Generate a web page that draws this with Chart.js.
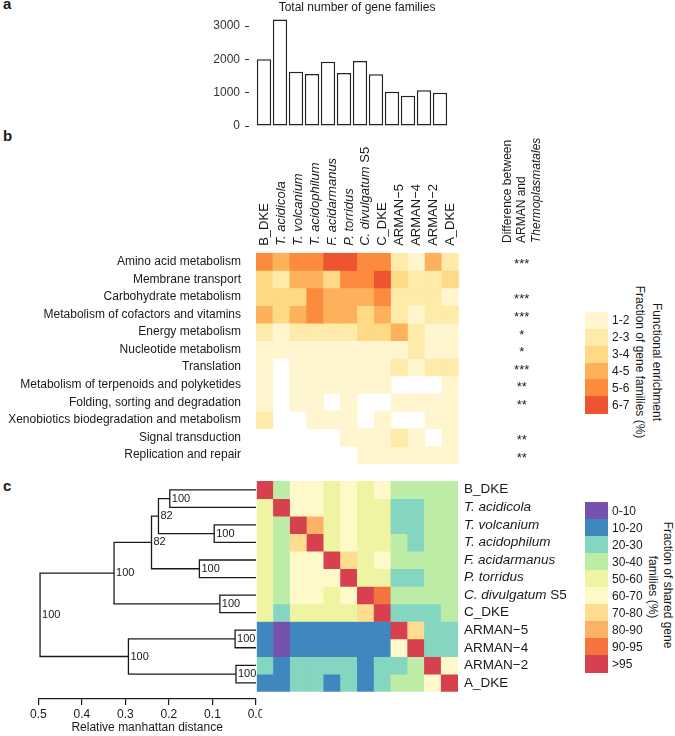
<!DOCTYPE html>
<html><head><meta charset="utf-8">
<title>Gene families</title>
<script src="https://cdn.jsdelivr.net/npm/chart.js@4.4.1/dist/chart.umd.min.js"></script>
<style>
html,body{margin:0;padding:0;background:#fff;}
body{position:relative;width:675px;height:736px;overflow:hidden;font-family:"Liberation Sans",Arial,Helvetica,sans-serif;color:#1a1a1a;}
canvas{position:absolute;display:block;}
.t{position:absolute;font-size:12px;line-height:14px;white-space:nowrap;}
.letter{position:absolute;font-size:15px;line-height:15px;font-weight:bold;}
.rotcw{transform:translate(-50%,-50%) rotate(90deg);}
.rotccw{transform-origin:0 0;transform:rotate(-90deg);}
.sw{position:absolute;left:585px;width:23px;}
</style></head><body>
<div class="letter" style="left:3px;top:-4px">a</div>
<div class="letter" style="left:3px;top:128px">b</div>
<div class="letter" style="left:3px;top:478px">c</div>
<canvas id="barChart" width="314" height="130" style="left:200px;top:0px"></canvas>
<canvas id="enrichChart" width="560" height="330" style="left:0px;top:140px"></canvas>
<canvas id="dendroChart" width="262" height="266" style="left:0px;top:470px"></canvas>
<canvas id="shareChart" width="340" height="230" style="left:250px;top:470px"></canvas>
<div class="t rotccw" style="left:499.7px;top:243.3px">Difference between</div>
<div class="t rotccw" style="left:514px;top:243.3px">ARMAN and</div>
<div class="t rotccw" style="left:529px;top:243.3px;font-style:italic">Thermoplasmatales</div>
<div class="t rotcw" style="left:657px;top:362px">Functional enrichment</div>
<div class="t rotcw" style="left:640px;top:362px">Fraction of gene families (%)</div>
<div class="t rotcw" style="left:668px;top:585px">Fraction of shared gene</div>
<div class="t rotcw" style="left:653px;top:587px">families (%)</div>
<div id="legendB"></div>
<div id="legendC"></div>
<script>
// ---------------- data ----------------
const genomes = ['B_DKE','T. acidicola','T. volcanium','T. acidophilum','F. acidarmanus','P. torridus','C. divulgatum S5','C_DKE','ARMAN\u22125','ARMAN\u22124','ARMAN\u22122','A_DKE'];
const italicGenomes = [1,2,3,4,5,6];
const romanSuffix = {6: ' S5'};   // part of an italic name that is set upright
const geneFamilyTotals = [2000,3200,1630,1560,1930,1590,1950,1550,1030,910,1070,1000];
const barTicks = [0,1000,2000,3000];

const functionCategories = ['Amino acid metabolism','Membrane transport','Carbohydrate metabolism','Metabolism of cofactors and vitamins','Energy metabolism','Nucleotide metabolism','Translation','Metabolism of terpenoids and polyketides','Folding, sorting and degradation','Xenobiotics biodegradation and metabolism','Signal transduction','Replication and repair'];
const significance = ['***','','***','***','*','*','***','**','**','','**','**'];
// fraction of gene families (%) per category (rows) and genome (columns); null = none
const enrichmentPct = [
  [5.5,4.5,5.5,5.5,6.5,6.5,5.5,5.5,2.5,1.5,4.5,2.5],
  [3.5,2.5,4.5,4.5,3.5,5.5,5.5,6.5,3.5,2.5,2.5,3.5],
  [3.5,3.5,3.5,5.5,4.5,4.5,4.5,5.5,2.5,2.5,2.5,1.5],
  [4.5,3.5,4.5,5.5,4.5,4.5,3.5,4.5,2.5,1.5,2.5,2.5],
  [2.5,1.5,2.5,2.5,2.5,2.5,3.5,3.5,4.5,2.5,1.5,1.5],
  [1.5,1.5,1.5,1.5,1.5,1.5,1.5,1.5,1.5,2.5,1.5,1.5],
  [1.5,null,1.5,1.5,1.5,1.5,1.5,1.5,2.5,1.5,2.5,2.5],
  [1.5,null,1.5,1.5,1.5,1.5,1.5,1.5,null,null,null,1.5],
  [1.5,null,1.5,1.5,null,1.5,null,null,1.5,1.5,1.5,1.5],
  [2.5,null,null,1.5,1.5,1.5,null,1.5,null,null,1.5,1.5],
  [null,null,null,null,null,1.5,1.5,1.5,2.5,1.5,null,1.5],
  [null,null,null,null,null,null,1.5,1.5,1.5,1.5,1.5,1.5]
];
const enrichBinLabels = ['1-2','2-3','3-4','4-5','5-6','6-7'];
const enrichBinColors = ['#fff6cf','#feeaa9','#fed986','#feb15b','#fc8b3d','#ee5430'];

// fraction of shared gene families (%) between genomes
const sharedPct = [
  [100,35,65,65,55,65,55,65,35,35,35,35],
  [55,100,65,65,55,65,55,55,25,25,35,35],
  [55,35,100,85,55,65,55,55,25,25,35,35],
  [55,35,75,100,55,65,55,55,35,25,35,35],
  [55,35,65,65,100,75,55,65,35,35,35,35],
  [55,35,65,65,65,100,55,55,25,25,35,35],
  [55,35,65,65,55,65,100,92,35,35,35,35],
  [55,25,55,55,55,55,75,100,25,25,25,35],
  [15,5,15,15,15,15,15,15,100,75,25,25],
  [15,5,15,15,15,15,15,15,65,100,25,25],
  [25,15,25,25,25,25,15,25,25,35,100,65],
  [15,15,25,25,15,25,15,25,35,35,65,100]
];
const shareBinLabels = ['0-10','10-20','20-30','30-40','50-60','60-70','70-80','80-90','90-95','>95'];
const shareBinUpper = [10,20,30,40,60,70,80,90,95,Infinity];
const shareBinColors = ['#7552b0','#3f87bf','#84d6c0','#bdeca7','#eef4a2','#fff9ca','#fedd90','#fdb165','#f5733f','#d7404f'];

// dendrogram (hclust style: negative = leaf index, positive = merge index)
const mergeLeft    = [-1,-3, 1,-5, 3,-7, 5,-9,-11, 8, 7];
const mergeRight   = [-2,-4, 2,-6, 4,-8, 6,-10,-12, 9,10];
const mergeHeight  = [0.198,0.096,0.224,0.130,0.240,0.083,0.326,0.048,0.046,0.293,0.496];
const mergeSupport = [100,100,82,100,82,100,100,100,100,100,100];
const distTicks = [0,0.1,0.2,0.3,0.4,0.5];

// ---------------- helpers ----------------
const FAM = '"Liberation Sans", Arial, Helvetica, sans-serif';
Chart.defaults.font.family = FAM;
Chart.defaults.color = '#1a1a1a';
const INK = '#1a1a1a';

function enrichColor(v){ const k = Math.min(enrichBinColors.length-1, Math.max(0, Math.floor(v)-1)); return enrichBinColors[k]; }
function shareColor(v){ for (let k=0;k<shareBinUpper.length;k++){ if (v < shareBinUpper[k] || (k===8 && v<=95)) return shareBinColors[k]; } return shareBinColors[shareBinColors.length-1]; }
function noPad(s){ s.paddingTop = 0; s.paddingBottom = 0; s.paddingLeft = 0; s.paddingRight = 0; }

function heatDatasets(matrix, colorFn){
  return matrix.map((row, r) => ({
    xAxisID:'x', yAxisID:'y',
    data: row.map(v => v == null ? null : [r, r+1]),
    backgroundColor: row.map(v => v == null ? 'rgba(0,0,0,0)' : colorFn(v)),
    borderWidth: 0, grouped: false, barPercentage: 1, categoryPercentage: 1
  }));
}
const italicFont = size => c => ({size: size, style: italicGenomes.includes(c.index) ? 'italic' : 'normal'});
const genomeColor = c => romanSuffix[c.index] ? 'rgba(0,0,0,0)' : INK;

// draws genome names that mix italic and upright type at the tick positions of a scale
function mixedLabelPlugin(scaleId, size, rotated, pad){
  return { id: 'mixed_' + scaleId, afterDraw(chart){
    const s = chart.scales[scaleId], ctx = chart.ctx;
    Object.keys(romanSuffix).forEach(key => {
      const i = +key, full = genomes[i], suf = romanSuffix[i], ita = full.slice(0, full.length - suf.length);
      ctx.save();
      if (rotated) { ctx.translate(s.getPixelForValue(i), s.bottom - pad); ctx.rotate(-Math.PI/2); }
      else { ctx.translate(s.left + pad, s.getPixelForValue(i)); }
      ctx.textAlign = 'left'; ctx.textBaseline = 'middle'; ctx.fillStyle = INK;
      ctx.font = 'italic ' + size + 'px ' + FAM; ctx.fillText(ita, 0, 0);
      const w = ctx.measureText(ita).width;
      ctx.font = size + 'px ' + FAM; ctx.fillText(suf, w, 0);
      ctx.restore();
    });
  }};
}

// ---------------- panel a ----------------
new Chart(document.getElementById('barChart'), {
  type: 'bar',
  data: { datasets: [{
    data: genomes.map((g,i) => ({x:i, y:geneFamilyTotals[i]})),
    backgroundColor: '#ffffff', borderColor: '#222', borderWidth: 1.5,
    borderSkipped: false, barPercentage: 0.9, categoryPercentage: 1
  }]},
  options: {
    responsive:false, animation:false, events:[],
    layout:{padding:{left:0,right:0,top:0,bottom:4}},
    plugins:{ legend:{display:false}, tooltip:{enabled:false},
      title:{display:true, text:'Total number of gene families', color:INK, font:{size:12, weight:'normal'}, padding:{top:0,bottom:0}} },
    scales:{
      x:{type:'linear', min:-0.9375, max:15.625, offset:false, grid:{offset:false}, bounds:'data', display:false},
      y:{min:0, max:3350,
         afterBuildTicks: s => { s.ticks = barTicks.map(v => ({value:v})); },
         ticks:{callback: v => String(v), padding:5, color:'#333', font:{size:12}},
         grid:{drawOnChartArea:false, drawTicks:true, tickLength:4, color:'#333', lineWidth:1},
         border:{display:false},
         afterFit: s => { s.width = 49; noPad(s); }}
    }
  }
});

// ---------------- panel b ----------------
const starPlugin = { id:'stars', afterDraw(chart){
  const ctx = chart.ctx, ys = chart.scales.y;
  ctx.save(); ctx.font = '13px ' + FAM; ctx.fillStyle = INK;
  ctx.textAlign = 'center'; ctx.textBaseline = 'middle';
  significance.forEach((s, r) => { if (s) ctx.fillText(s, 521.7, ys.getPixelForValue(r + 0.5) + 3); });
  ctx.restore();
}};
new Chart(document.getElementById('enrichChart'), {
  type: 'bar',
  data: { labels: genomes, datasets: heatDatasets(enrichmentPct, enrichColor) },
  options: {
    responsive:false, animation:false, events:[],
    layout:{padding:{left:0,right:101.2,top:0,bottom:6.1}},
    plugins:{legend:{display:false}, tooltip:{enabled:false}},
    scales:{
      x:{type:'category', position:'top', offset:true, grid:{display:false, drawTicks:false}, border:{display:false},
         ticks:{autoSkip:false, minRotation:90, maxRotation:90, padding:7, labelOffset:15.6, color:genomeColor, font: italicFont(13)},
         afterFit: s => { s.height = 112.8; noPad(s); }},
      y:{type:'linear', min:0, max:functionCategories.length, reverse:true, display:false},
      rows:{type:'category', axis:'y', position:'left', labels:functionCategories, offset:true,
         grid:{display:false, drawTicks:false}, border:{display:false},
         ticks:{autoSkip:false, padding:15, color:INK, font:{size:12}},
         afterFit: s => { s.width = 256; noPad(s); }}
    }
  },
  plugins:[starPlugin, mixedLabelPlugin('x', 13, true, 7)]
});

// ---------------- panel c heatmap ----------------
new Chart(document.getElementById('shareChart'), {
  type: 'bar',
  data: { labels: genomes, datasets: heatDatasets(sharedPct, shareColor) },
  options: {
    responsive:false, animation:false, events:[],
    layout:{padding:{left:6.7,right:0,top:11,bottom:8.3}},
    plugins:{legend:{display:false}, tooltip:{enabled:false}},
    scales:{
      x:{type:'category', offset:true, display:false},
      y:{type:'linear', min:0, max:genomes.length, reverse:true, display:false},
      rows:{type:'category', axis:'y', position:'right', labels:genomes, offset:true,
         grid:{display:false, drawTicks:false}, border:{display:false},
         ticks:{autoSkip:false, padding:6, color:genomeColor, font: italicFont(13.5)},
         afterFit: s => { s.width = 132; noPad(s); }}
    }
  },
  plugins:[mixedLabelPlugin('rows', 13.5, false, 6)]
});

// ---------------- panel c dendrogram ----------------
function nodePos(id){
  if (id < 0) return {x:0, y:-id - 0.5};
  const k = id - 1, a = nodePos(mergeLeft[k]), b = nodePos(mergeRight[k]);
  return {x: mergeHeight[k], y: (a.y + b.y) / 2};
}
const dendroDatasets = mergeHeight.map((h, k) => {
  const a = nodePos(mergeLeft[k]), b = nodePos(mergeRight[k]);
  return { data:[{x:a.x,y:a.y},{x:h,y:a.y},{x:h,y:b.y},{x:b.x,y:b.y}],
    showLine:true, borderColor:INK, borderWidth:1.3, pointRadius:0, tension:0, fill:false };
});
const supportPlugin = { id:'support', afterDatasetsDraw(chart){
  const ctx = chart.ctx, xs = chart.scales.x, ys = chart.scales.y;
  ctx.save(); ctx.font = '11px ' + FAM; ctx.fillStyle = INK;
  ctx.textAlign = 'left'; ctx.textBaseline = 'middle';
  mergeSupport.forEach((s, k) => { const p = nodePos(k + 1);
    ctx.fillText(String(s), xs.getPixelForValue(p.x) + 2, ys.getPixelForValue(p.y)); });
  ctx.restore();
}};
new Chart(document.getElementById('dendroChart'), {
  type: 'scatter',
  data: { datasets: dendroDatasets },
  options: {
    responsive:false, animation:false, events:[],
    layout:{padding:{left:38.3,right:6,top:11,bottom:0}},
    plugins:{legend:{display:false}, tooltip:{enabled:false}},
    scales:{
      x:{type:'linear', min:0, max:0.5, reverse:true, position:'bottom',
         afterBuildTicks: s => { s.ticks = distTicks.map(v => ({value:v})); },
         ticks:{callback: v => Number(v).toFixed(1), padding:2, color:INK, font:{size:12}, autoSkip:false, maxRotation:0},
         grid:{drawOnChartArea:false, drawTicks:true, tickLength:6, color:INK, lineWidth:1.2},
         border:{display:true, color:INK, width:1.2},
         title:{display:true, text:'Relative manhattan distance', color:INK, font:{size:12}, padding:{top:0,bottom:1}},
         afterFit: s => { s.height = 37; noPad(s); }},
      y:{type:'linear', min:0, max:12.42, reverse:true, display:false}
    }
  },
  plugins:[supportPlugin]
});

// ---------------- legends ----------------
function buildLegend(el, labels, colors, top, h){
  labels.forEach((lab, k) => {
    const sw = document.createElement('div'); sw.className = 'sw';
    sw.style.top = (top + k*h) + 'px'; sw.style.height = (h + 0.4) + 'px'; sw.style.background = colors[k];
    el.appendChild(sw);
    const t = document.createElement('div'); t.className = 't';
    t.style.left = '612px'; t.style.top = (top + k*h + h/2 - 7) + 'px'; t.textContent = lab;
    el.appendChild(t);
  });
}
buildLegend(document.getElementById('legendB'), enrichBinLabels, enrichBinColors, 311.7, 16.94);
buildLegend(document.getElementById('legendC'), shareBinLabels, shareBinColors, 502.3, 17);
</script>
</body></html>
